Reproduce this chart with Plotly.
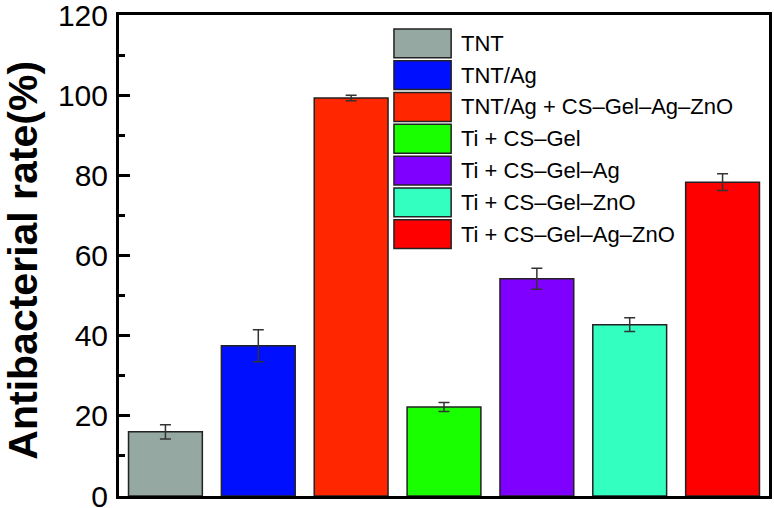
import plotly.graph_objects as go

categories = ["TNT", "TNT/Ag", "TNT/Ag + CS–Gel–Ag–ZnO", "Ti + CS–Gel",
              "Ti + CS–Gel–Ag", "Ti + CS–Gel–ZnO", "Ti + CS–Gel–Ag–ZnO"]
values = [16.0, 37.5, 99.3, 22.2, 54.2, 42.75, 78.3]
errors = [1.75, 4.0, 0.7, 1.1, 2.6, 1.7, 2.1]
colors = ["#95a8a2", "#0010ff", "#ff2600", "#1aff00", "#8000ff", "#33ffc0", "#ff0000"]
y_ticks = [0, 20, 40, 60, 80, 100, 120]
y_title = "Antibacterial rate(%)"

FONT = "Liberation Sans, Arial, sans-serif"

fig = go.Figure()
fig.add_trace(go.Bar(
    x=list(range(len(categories))), y=values,
    marker=dict(color=colors, line=dict(color="#222222", width=1.5)),
    error_y=dict(type="data", array=errors, visible=True,
                 color="#333333", thickness=1.5, width=5.5),
    showlegend=False,
))

# legend drawn as swatches + labels in paper coordinates
x0, x1, xt = 0.423, 0.511, 0.523
ytop, sh, pitch = 0.971, 0.060, 0.0661
for i, (name, col) in enumerate(zip(categories, colors)):
    yt = ytop - i * pitch
    fig.add_shape(type="rect", xref="paper", yref="paper",
                  x0=x0, x1=x1, y0=yt - sh, y1=yt,
                  fillcolor=col, line=dict(color="#222222", width=1.5))
    fig.add_annotation(xref="paper", yref="paper", x=xt, y=yt - sh / 2,
                       text=name, showarrow=False, xanchor="left", yanchor="middle",
                       font=dict(family=FONT, size=22, color="black"))

# y-axis title
fig.add_annotation(xref="paper", yref="paper", x=-0.148, y=0.491,
                   text="<b>" + y_title + "</b>", textangle=-90, showarrow=False,
                   xanchor="center", yanchor="middle",
                   font=dict(family=FONT, size=41, color="black"))

fig.update_layout(
    width=774, height=508,
    margin=dict(l=119, r=5, t=15, b=12, autoexpand=False),
    paper_bgcolor="white", plot_bgcolor="white",
    bargap=0.205,
    xaxis=dict(range=[-0.5, 6.5], showticklabels=False, ticks="", automargin=False,
               showline=True, linecolor="black", linewidth=3, mirror=True,
               showgrid=False, zeroline=False),
    yaxis=dict(range=[0, 120], tickvals=y_ticks, ticks="inside", ticklen=11,
               tickwidth=3, tickcolor="black", automargin=False,
               ticklabeloverflow="allow",
               minor=dict(dtick=10, ticks="inside", ticklen=6, tickwidth=3, tickcolor="black"),
               showline=True, linecolor="black", linewidth=3, mirror=True,
               showgrid=False, zeroline=False,
               tickfont=dict(family=FONT, size=30, color="black"),
               ticklabelstandoff=2),
)

fig.write_html("out.html", config={"displayModeBar": False},
               post_script="document.body.style.margin='0px';document.body.style.overflow='hidden';")
